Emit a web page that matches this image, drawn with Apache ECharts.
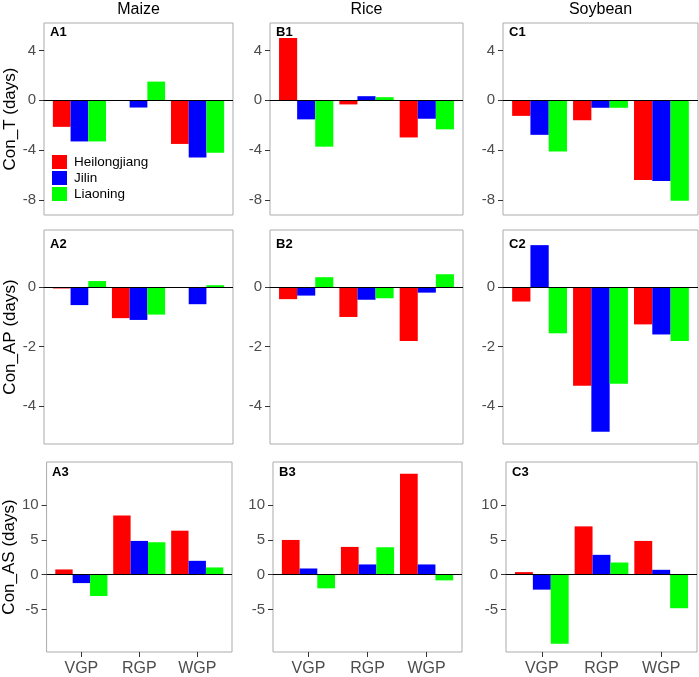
<!DOCTYPE html>
<html>
<head>
<meta charset="utf-8">
<script src="https://cdn.jsdelivr.net/npm/echarts@6/dist/echarts.min.js"></script>
<style>
  html, body { margin: 0; padding: 0; background: #fff; }
  #chart { width: 699px; height: 677px; }
</style>
</head>
<body>
<div id="chart"></div>
<script>
const crops = ['Maize', 'Rice', 'Soybean']
const periods = ['VGP', 'RGP', 'WGP']
const provinces = ['Heilongjiang', 'Jilin', 'Liaoning']
const rowTitles = ['Con_T (days)', 'Con_AP (days)', 'Con_AS (days)']
const panelLetters = ['A', 'B', 'C']

// y tick labels for each row
const ticksT = [-8, -4, 0, 4]
const ticksAP = [-4, -2, 0]
const ticksAS = [-5, 0, 5, 10]

// one row per province (Heilongjiang, Jilin, Liaoning), one value per period (VGP, RGP, WGP)
const maizeT = [[-2.13, 0, -3.5], [-3.3, -0.58, -4.58], [-3.3, 1.5, -4.2]]
const riceT = [[5.0, -0.33, -2.98], [-1.53, 0.33, -1.48], [-3.72, 0.25, -2.33]]
const soyT = [[-1.25, -1.6, -6.4], [-2.77, -0.6, -6.47], [-4.1, -0.6, -8.05]]

const maizeAP = [[-0.04, -1.04, 0], [-0.6, -1.1, -0.57], [0.21, -0.92, 0.07]]
const riceAP = [[-0.4, -1.0, -1.81], [-0.28, -0.42, -0.18], [0.34, -0.37, 0.44]]
const soyAP = [[-0.48, -3.32, -1.25], [1.42, -4.87, -1.59], [-1.55, -3.25, -1.81]]

const maizeAS = [[0.76, 8.5, 6.33], [-1.2, 4.86, 2.0], [-3.05, 4.67, 1.05]]
const riceAS = [[5.0, 4.0, 14.5], [0.9, 1.48, 1.48], [-1.95, 3.95, -0.81]]
const soyAS = [[0.38, 6.95, 4.86], [-2.14, 2.86, 0.71], [-9.9, 1.76, -4.81]]

const panels = [
    [maizeT, riceT, soyT],
    [maizeAP, riceAP, soyAP],
    [maizeAS, riceAS, soyAS]
]
const rowTicks = [ticksT, ticksAP, ticksAS]
const colors = ['#ff0000', '#0000ff', '#00ff00']
const font = '"Liberation Sans", Arial, sans-serif'

// period positions on the x scale (1..3, padded like a discrete ggplot axis)
const periodPos = periods.map((p, k) => k + 1)

// panel layout (pixels) and y ranges
const rows = [
    { top: 23, height: 192, min: -9.2, max: 6.2, labelOffset: 3, cols: [[44, 189], [270, 193], [503, 195]] },
    { top: 230, height: 214, min: -5.28, max: 1.93, labelOffset: 8, cols: [[44, 189], [270, 193], [503, 195]] },
    { top: 462, height: 191, min: -11.1, max: 16.2, labelOffset: 4, cols: [[46, 186], [273, 189], [506, 191]] }
]

const grid = []
const xAxis = []
const yAxis = []
const series = []
const graphic = []

rows.forEach((row, r) => {
    row.cols.forEach(([left, width], c) => {
        const i = grid.length
        grid.push({
            left, top: row.top, width, height: row.height,
            show: true, borderColor: '#ababab', borderWidth: 1, backgroundColor: 'transparent'
        })
        const bottomRow = r === rows.length - 1
        xAxis.push({
            gridIndex: i,
            type: 'value',
            min: 0.4,
            max: 3.6,
            axisLine: { show: false, onZero: false },
            axisTick: { show: bottomRow, length: 5, customValues: periodPos, lineStyle: { color: '#333' } },
            axisLabel: {
                show: bottomRow, customValues: periodPos, margin: 9, fontSize: 16, color: '#4d4d4d', fontFamily: font,
                formatter: v => periods[Math.round(v) - 1]
            },
            splitLine: { show: false }
        })
        yAxis.push({
            gridIndex: i,
            type: 'value',
            min: row.min,
            max: row.max,
            axisLine: { show: false },
            splitLine: { show: false },
            axisTick: { show: true, length: 5, customValues: rowTicks[r], lineStyle: { color: '#333' } },
            axisLabel: { customValues: rowTicks[r], margin: 8, fontSize: 15, color: '#4d4d4d', fontFamily: font },
            name: c === 0 ? rowTitles[r] : '',
            nameLocation: 'middle',
            nameGap: left - 19,
            nameTextStyle: { fontSize: 17, color: '#000', fontFamily: font }
        })
        panels[r][c].forEach((values, p) => {
            const s = {
                type: 'bar',
                name: provinces[p],
                xAxisIndex: i,
                yAxisIndex: i,
                data: values.map((v, k) => [periodPos[k], v]),
                itemStyle: { color: colors[p] },
                barGap: '0%',
                barCategoryGap: '10%',
                silent: true
            }
            if (p === 2) {
                // zero reference line
                s.markLine = {
                    silent: true,
                    symbol: ['none', 'none'],
                    label: { show: false },
                    lineStyle: { color: '#000', type: 'solid', width: 1.2 },
                    data: [{ yAxis: 0 }]
                }
            }
            series.push(s)
        })
        graphic.push({
            type: 'text',
            x: left + 6,
            y: row.top + row.labelOffset,
            style: {
                text: panelLetters[c] + (r + 1),
                fill: '#000',
                fontSize: 13,
                fontWeight: 'bold',
                fontFamily: font,
                verticalAlign: 'top'
            }
        })
        if (r === 0) {
            graphic.push({
                type: 'text',
                x: left + width / 2,
                y: 2,
                style: {
                    text: crops[c],
                    fill: '#000',
                    fontSize: 16,
                    fontFamily: font,
                    align: 'center',
                    verticalAlign: 'top'
                }
            })
        }
    })
})

const chart = echarts.init(document.getElementById('chart'))
chart.setOption({
    animation: false,
    grid,
    xAxis,
    yAxis,
    series,
    graphic,
    legend: {
        data: provinces,
        orient: 'vertical',
        left: 47,
        top: 150,
        icon: 'rect',
        itemWidth: 15,
        itemHeight: 14,
        itemGap: 2,
        selectedMode: false,
        textStyle: { fontSize: 13.5, color: '#000', fontFamily: font, padding: [0, 0, 0, 2] }
    }
})
</script>
</body>
</html>
